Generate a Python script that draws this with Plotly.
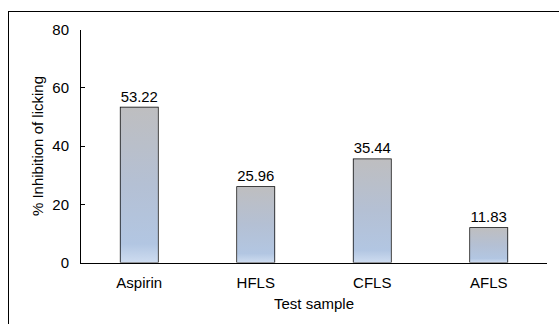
import plotly.graph_objects as go

# Test samples and their % inhibition of licking
samples = ["Aspirin", "HFLS", "CFLS", "AFLS"]
inhibition = [53.22, 25.96, 35.44, 11.83]
y_ticks = [0, 20, 40, 60, 80]

BAR_W = 0.32
FONT = dict(family="Liberation Sans, Arial, sans-serif", size=15, color="#000000")

# Excel-style vertical gradient: light blue at the base fading to grey at the top
gradient = [
    [0.0, "rgb(206,220,240)"],
    [0.12, "rgb(178,198,226)"],
    [0.5, "rgb(180,192,212)"],
    [1.0, "rgb(190,190,192)"],
]

fig = go.Figure()

for i, v in enumerate(samples):
    val = inhibition[i]
    x0, x1 = i - BAR_W / 2, i + BAR_W / 2
    fig.add_trace(go.Scatter(
        x=[x0, x1, x1, x0, x0],
        y=[0, 0, val, val, 0],
        mode="lines",
        line=dict(width=0),
        fill="toself",
        fillgradient=dict(type="vertical", colorscale=gradient),
        hoverinfo="skip",
        showlegend=False,
    ))

fig.add_trace(go.Bar(
    x=list(range(len(samples))),
    y=inhibition,
    width=BAR_W,
    marker=dict(color="rgba(0,0,0,0)", line=dict(color="#000000", width=1.5)),
    text=[f"{v:.2f}" for v in inhibition],
    textposition="outside",
    textfont=FONT,
    cliponaxis=False,
    showlegend=False,
))

# Empty trace on a second pair of axes; their lines form the chart frame
fig.add_trace(go.Scatter(x=[None], y=[None], xaxis="x2", yaxis="y2",
                         showlegend=False, hoverinfo="skip"))

frame_axis = dict(
    domain=[0, 1], anchor="free", range=[0, 1],
    showline=True, linecolor="#000000", linewidth=1,
    ticks="", showticklabels=False, showgrid=False, zeroline=False,
)

fig.update_layout(
    width=559,
    height=332,
    margin=dict(l=8, r=0, t=11, b=0),
    paper_bgcolor="white",
    plot_bgcolor="rgba(0,0,0,0)",
    font=FONT,
    xaxis=dict(
        domain=[0.13249, 0.97822],
        anchor="y",
        range=[-0.5, len(samples) - 0.5],
        tickvals=list(range(len(samples))),
        ticktext=samples,
        showline=True,
        linecolor="#000000",
        linewidth=1,
        ticks="",
        showgrid=False,
        zeroline=False,
        ticklabelstandoff=6,
        title=dict(text="Test sample", standoff=8, font=FONT),
    ),
    yaxis=dict(
        domain=[0.19626, 0.94081],
        anchor="x",
        range=[0, 80],
        tickvals=y_ticks,
        showline=True,
        linecolor="#000000",
        linewidth=1,
        ticks="inside",
        ticklen=4,
        tickcolor="#000000",
        showgrid=False,
        zeroline=False,
        ticklabelstandoff=8,
        title=dict(text="% Inhibition of licking", standoff=5, font=FONT),
    ),
    xaxis2=dict(frame_axis, side="top", position=1),
    yaxis2=dict(frame_axis, side="left", position=0),
)

fig.write_html("out.html")
